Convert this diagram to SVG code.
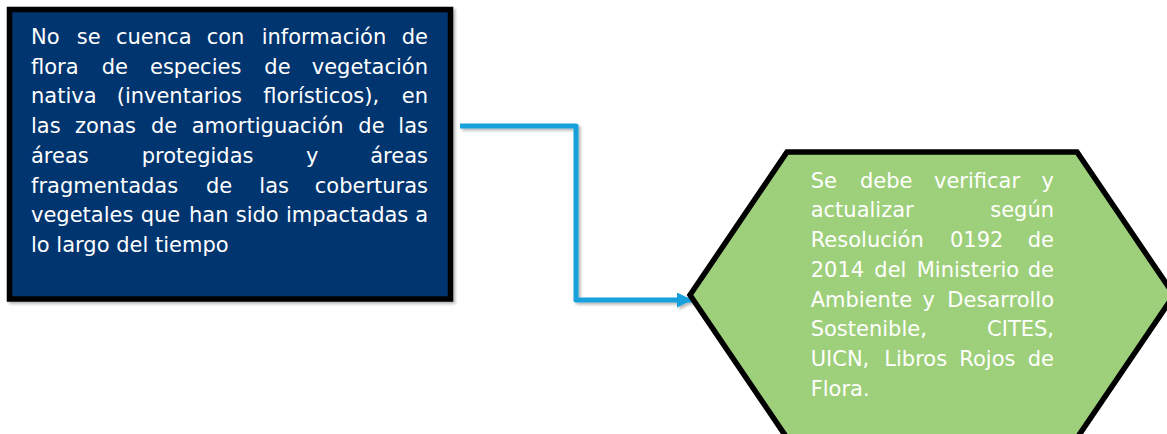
<svg xmlns="http://www.w3.org/2000/svg" width="1167" height="434" viewBox="0 0 1167 434">
<style>
.t{font-family:"DejaVu Sans","Verdana",sans-serif;font-size:21px;fill:#ffffff}
.e{text-anchor:end}
</style>
<defs>
<filter id="sh" x="-10%" y="-10%" width="130%" height="130%">
<feDropShadow dx="2" dy="2" stdDeviation="1.5" flood-color="#000" flood-opacity="0.3"/>
</filter>
<marker id="ah" markerUnits="userSpaceOnUse" markerWidth="16" markerHeight="16" refX="15" refY="7.5" orient="auto">
<path d="M0,0 L15,7.5 L0,15 Z" fill="#12a0dc"/>
</marker>
</defs>
<rect width="1167" height="434" fill="#ffffff"/>
<g id="connectors">
<path d="M460,126 H576 V300 H692" fill="none" stroke="#12a0dc" stroke-width="5" stroke-linejoin="round" marker-end="url(#ah)" filter="url(#sh)"/>
</g>
<g id="node-problem">
<rect x="9.5" y="9.5" width="441" height="289.5" fill="#02356f" stroke="#000000" stroke-width="5.5" filter="url(#sh)"/>
<text class="t" y="44"><tspan x="31">No</tspan><tspan x="76.7">se</tspan><tspan x="116">cuenca</tspan><tspan x="206.7">con</tspan><tspan x="261.7">información</tspan><tspan x="428" class="e">de</tspan></text>
<text class="t" y="73.7"><tspan x="31">flora</tspan><tspan x="101.7">de</tspan><tspan x="150">especies</tspan><tspan x="264.3">de</tspan><tspan x="428" class="e">vegetación</tspan></text>
<text class="t" y="103.4"><tspan x="31">nativa</tspan><tspan x="116.7">(inventarios</tspan><tspan x="263.3">florísticos),</tspan><tspan x="428" class="e">en</tspan></text>
<text class="t" y="133.1"><tspan x="31">las</tspan><tspan x="75">zonas</tspan><tspan x="151">de</tspan><tspan x="191.7">amortiguación</tspan><tspan x="358.3">de</tspan><tspan x="428" class="e">las</tspan></text>
<text class="t" y="162.8"><tspan x="31">áreas</tspan><tspan x="141.7">protegidas</tspan><tspan x="306">y</tspan><tspan x="428" class="e">áreas</tspan></text>
<text class="t" y="192.5"><tspan x="31">fragmentadas</tspan><tspan x="206">de</tspan><tspan x="259.3">las</tspan><tspan x="428" class="e">coberturas</tspan></text>
<text class="t" y="222.2"><tspan x="31">vegetales</tspan><tspan x="140.7">que</tspan><tspan x="189">han</tspan><tspan x="235.7">sido</tspan><tspan x="286">impactadas</tspan><tspan x="428" class="e">a</tspan></text>
<text class="t" x="31" y="251.9">lo largo del tiempo</text>
</g>
<g id="node-action">
<polygon points="690,295 787,152 1077,152 1174,295 1077,438 787,438" fill="#9ecf7a" stroke="#000000" stroke-width="5.5" stroke-linejoin="miter"/>
<text class="t" y="187.5"><tspan x="810.7">Se</tspan><tspan x="860">debe</tspan><tspan x="934">verificar</tspan><tspan x="1054" class="e">y</tspan></text>
<text class="t" y="217.3"><tspan x="810.7">actualizar</tspan><tspan x="1054" class="e">según</tspan></text>
<text class="t" y="247"><tspan x="810.7">Resolución</tspan><tspan x="950">0192</tspan><tspan x="1054" class="e">de</tspan></text>
<text class="t" y="276.8"><tspan x="810.7">2014</tspan><tspan x="874.3">del</tspan><tspan x="916.7">Ministerio</tspan><tspan x="1054" class="e">de</tspan></text>
<text class="t" y="306.5"><tspan x="810.7">Ambiente</tspan><tspan x="922.5">y</tspan><tspan x="1054" class="e">Desarrollo</tspan></text>
<text class="t" y="336.3"><tspan x="810.7">Sostenible,</tspan><tspan x="1054" class="e">CITES,</tspan></text>
<text class="t" y="366"><tspan x="810.7">UICN,</tspan><tspan x="884.3">Libros</tspan><tspan x="959.3">Rojos</tspan><tspan x="1054" class="e">de</tspan></text>
<text class="t" x="810.7" y="395.8">Flora.</text>
</g>
</svg>
